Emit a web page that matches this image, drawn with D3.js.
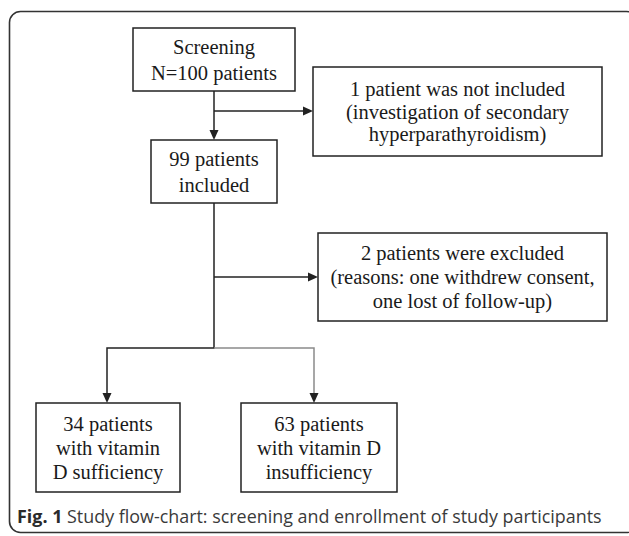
<!DOCTYPE html>
<html>
<head>
<meta charset="utf-8">
<script src="https://cdn.jsdelivr.net/npm/d3@7"></script>
<style>
  html, body { margin: 0; padding: 0; background: #fff; }
  svg { display: block; }
</style>
</head>
<body>
<svg id="chart" width="629" height="536"></svg>
<script>
// ---- content ----
const screeningLines = ["Screening", "N=100 patients"];
const notIncludedLines = ["1 patient was not included", "(investigation of secondary", "hyperparathyroidism)"];
const includedLines = ["99 patients", "included"];
const excludedLines = ["2 patients were excluded", "(reasons: one withdrew consent,", "one lost of follow-up)"];
const sufficiencyLines = ["34 patients", "with vitamin", "D sufficiency"];
const insufficiencyLines = ["63 patients", "with vitamin D", "insufficiency"];
const captionBold = "Fig. 1";
const captionText = " Study flow-chart: screening and enrollment of study participants";

// ---- layout (pixels) ----
const boxes = [
  { id: "screen", lines: screeningLines,    x0: 133, y0: 28,  x1: 295, y1: 91,  lh: 26 },
  { id: "notinc", lines: notIncludedLines,  x0: 313, y0: 67,  x1: 602, y1: 156, lh: 22.5 },
  { id: "inc",    lines: includedLines,     x0: 151, y0: 140, x1: 277, y1: 203, lh: 26 },
  { id: "exc",    lines: excludedLines,     x0: 318, y0: 233, x1: 607, y1: 321, lh: 24 },
  { id: "suff",   lines: sufficiencyLines,  x0: 36,  y0: 403, x1: 180, y1: 492, lh: 24 },
  { id: "insuff", lines: insufficiencyLines,x0: 241, y0: 403, x1: 397, y1: 492, lh: 24 }
];

const svg = d3.select("#chart");
const dark = "#222";
const grey = "#8a8a8a";

// outer rounded frame
svg.append("rect")
  .attr("x", 9.5).attr("y", 11.5)
  .attr("width", 628).attr("height", 521)
  .attr("rx", 11).attr("ry", 11)
  .attr("fill", "none").attr("stroke", "#333").attr("stroke-width", 1.6);

// connector lines
const line = d3.line();
const links = [
  { pts: [[214, 91], [214, 132]], color: dark },
  { pts: [[214, 111], [303, 111]], color: dark },
  { pts: [[214, 203], [214, 348], [107, 348], [107, 394]], color: dark },
  { pts: [[214, 277], [309, 277]], color: dark },
  { pts: [[214, 348], [314, 348], [314, 394]], color: grey }
];
svg.selectAll("path.link").data(links).join("path")
  .attr("class", "link")
  .attr("d", d => line(d.pts))
  .attr("fill", "none")
  .attr("stroke", d => d.color)
  .attr("stroke-width", 1.5);

// arrowheads: tip point and direction
const arrows = [
  { x: 214, y: 140, dir: "down" },
  { x: 313, y: 111, dir: "right" },
  { x: 318, y: 277, dir: "right" },
  { x: 107, y: 403, dir: "down" },
  { x: 314, y: 403, dir: "down" }
];
svg.selectAll("path.arrow").data(arrows).join("path")
  .attr("class", "arrow")
  .attr("d", d => {
    const L = 10, W = 4.5;
    if (d.dir === "down") return line([[d.x, d.y], [d.x - W, d.y - L], [d.x + W, d.y - L]]) + "Z";
    return line([[d.x, d.y], [d.x - L, d.y - W], [d.x - L, d.y + W]]) + "Z";
  })
  .attr("fill", dark);

// boxes
const g = svg.selectAll("g.box").data(boxes).join("g").attr("class", "box");
g.append("rect")
  .attr("x", d => d.x0).attr("y", d => d.y0)
  .attr("width", d => d.x1 - d.x0).attr("height", d => d.y1 - d.y0)
  .attr("fill", "#fff").attr("stroke", dark).attr("stroke-width", 1.5);
g.each(function(d) {
  const cx = (d.x0 + d.x1) / 2;
  const cy = (d.y0 + d.y1) / 2;
  const n = d.lines.length;
  const first = cy - (n - 1) * d.lh / 2 + 7;
  d3.select(this).selectAll("text").data(d.lines).join("text")
    .attr("x", cx)
    .attr("y", (t, i) => first + i * d.lh)
    .attr("text-anchor", "middle")
    .attr("font-family", "'Liberation Serif', 'Times New Roman', serif")
    .attr("font-size", 20.5)
    .attr("fill", "#1a1a1a")
    .text(t => t);
});

// caption
const cap = svg.append("text")
  .attr("x", 17).attr("y", 523)
  .attr("font-family", "'Open Sans', 'Noto Sans', sans-serif")
  .attr("font-size", 17)
  .attr("fill", "#3a3a3a");
cap.append("tspan").attr("font-weight", "bold").attr("fill", "#2a2a2a").text(captionBold);
cap.append("tspan").text(captionText);
const targetW = 585;
const w = cap.node().getComputedTextLength();
if (w > 0) cap.attr("font-size", 17 * targetW / w);
</script>
</body>
</html>
